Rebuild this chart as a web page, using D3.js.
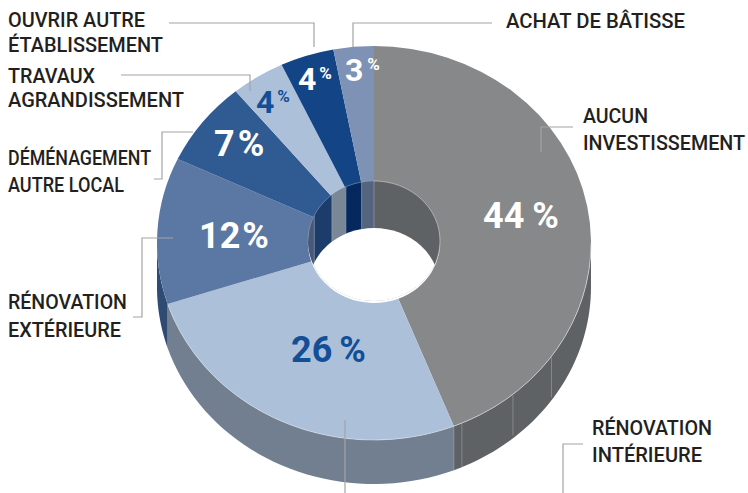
<!DOCTYPE html>
<html><head><meta charset="utf-8">
<script src="https://cdn.jsdelivr.net/npm/d3@7/dist/d3.min.js"></script>
<style>html,body{margin:0;padding:0;background:#fff}svg{display:block}</style>
</head><body><svg id="c" width="748" height="493"></svg>
<script>
const names = ["Aucun investissement","Rénovation intérieure","Rénovation extérieure","Déménagement autre local","Travaux agrandissement","Ouvrir autre établissement","Achat de bâtisse"];
const values = [44,26,12,7,4,4,3];
const topColors = ["#87888a","#adc0da","#5b77a3","#305a92","#adc0da","#134586","#7d92b5"];
const outerWallColors = ["#5f6265","#727f90","#2f4a73","#1f3f6e","#727f90","#05295f","#54647e"];
const innerWallColors = ["#5f6265","#727f90","#46597a","#1c3d6c","#7a8797","#05295f","#54647e"];
const labelColors = ["#fff","#134f96","#fff","#fff","#134f96","#fff","#fff"];

const svg = d3.select("#c");
const cx=374, cy=243, rx=217, ry=197, irx=66, iry=60, depth=44, idepth=47;
const ratio = ry/rx;
const arcs = d3.pie().sort(null).value(d=>d)(values);
const outerPt = (a,dy=0)=>[cx+rx*Math.sin(a), cy-ry*Math.cos(a)+dy];
const innerPt = (a,dy=0)=>[cx+irx*Math.sin(a), cy-2-iry*Math.cos(a)+dy];
const line = d3.line();
const PI=Math.PI;
const samples=(a0,a1)=>d3.range(0,41).map(i=>a0+(a1-a0)*i/40);
function wallPath(a0,a1,pt,d){
  const s = samples(a0,a1);
  return line(s.map(a=>pt(a)).concat(s.slice().reverse().map(a=>pt(a,d))))+"Z";
}
// outer wall
arcs.forEach((d,i)=>{
  const a0=Math.max(d.startAngle,PI/2), a1=Math.min(d.endAngle,3*PI/2);
  if(a1>a0) svg.append("path").attr("d",wallPath(a0,a1,outerPt,depth)).attr("fill",outerWallColors[i]);
});
// seams on the gray wall
const seam=(a,pt,d,c)=>svg.append("path").attr("d",line([pt(a,1),pt(a,d)])).attr("stroke",c).attr("stroke-width",.8).attr("fill","none");
[0.885,0.79].forEach(f=>seam(arcs[0].endAngle*f,outerPt,depth-3,"#8f9295"));
seam(arcs[0].endAngle,outerPt,depth,"#8d9095");
seam(arcs[0].endAngle-.04,outerPt,depth,"#8d9095");

// top slices
const arcGen=d3.arc().innerRadius(irx).outerRadius(rx);
const topG=svg.append("g").attr("transform",`translate(${cx},${cy}) scale(1,${ratio})`);
topG.selectAll("path").data(arcs).join("path").attr("d",arcGen).attr("fill",(d,i)=>topColors[i]);
// light rim between the top face and the wall
svg.append("path").attr("d",line(samples(PI/2,3*PI/2-.32).map(a=>outerPt(a)))).attr("fill","none").attr("stroke","#d4d8dd").attr("stroke-width",.7);

// hole
const defs=svg.append("defs");
defs.append("clipPath").attr("id","hole").append("ellipse").attr("cx",cx).attr("cy",cy-2).attr("rx",irx).attr("ry",iry);
const hole=svg.append("g").attr("clip-path","url(#hole)");
hole.append("ellipse").attr("cx",cx).attr("cy",cy-2).attr("rx",irx).attr("ry",iry).attr("fill","#5f6265");
arcs.forEach((d,i)=>{
  const draw=(s,e)=>{ if(e>s) hole.append("path").attr("d",wallPath(s,e,innerPt,idepth)).attr("fill",innerWallColors[i]); };
  draw(Math.max(d.startAngle,3*PI/2),Math.min(d.endAngle,2*PI));
  draw(d.startAngle,Math.min(d.endAngle,PI/2));
});
// seams on the inner wall
arcs.forEach(d=>{
  const a=d.endAngle;
  if(a>3*PI/2) hole.append("path").attr("d",line([innerPt(a),innerPt(a,idepth+30)])).attr("stroke","#9aa6b8").attr("stroke-width",.6);
});
hole.append("ellipse").attr("cx",cx).attr("cy",cy-2+idepth).attr("rx",irx).attr("ry",iry).attr("fill","#fff");
svg.append("path").attr("d",line(samples(0,PI/2+.35).map(a=>innerPt(a)))).attr("fill","none").attr("stroke","#c4c6c8").attr("stroke-width",.7);
svg.append("path").attr("d",line(samples(3*PI/2,2*PI).map(a=>innerPt(a)))).attr("fill","none").attr("stroke","#9aa6b8").attr("stroke-width",.5);

// leaders
const leaders=[
 [[353,47],[353,23],[492,23]],
 [[169,23],[314,23],[314,47]],
 [[121,75],[250,75],[250,91]],
 [[154,179],[162,179],[162,132],[193,132]],
 [[133,317],[142,317],[142,238],[173,238]],
 [[573,127],[541,127],[541,152]],
 [[345,420],[345,493]],
 [[583,444],[563,444],[563,493]]
];
svg.selectAll("path.l").data(leaders).join("path").attr("class","l").attr("d",d=>line(d)).attr("fill","none").attr("stroke","#a3a3a3").attr("stroke-width",1.2);

// category labels
const labelFont='"Roboto",sans-serif';
const cats=[
 ["ACHAT DE BÂTISSE",506,28,179],["OUVRIR AUTRE",8,27,137],["ÉTABLISSEMENT",8,52,155],["TRAVAUX",8,83,87],["AGRANDISSEMENT",8,107,176],
 ["DÉMÉNAGEMENT",8,165,143],["AUTRE LOCAL",8,192,116],["RÉNOVATION",8,309,119],["EXTÉRIEURE",8,337,113],
 ["AUCUN",583,123,65],["INVESTISSEMENT",583,150,162],["RÉNOVATION",592,435,120],["INTÉRIEURE",592,462,110]
];
svg.selectAll("text.c").data(cats).join("text").attr("class","c").attr("x",d=>d[1]).attr("y",d=>d[2]).text(d=>d[0])
 .attr("textLength",d=>d[3]).attr("lengthAdjust","spacingAndGlyphs")
 .attr("font-family",labelFont).attr("font-size",20).attr("font-weight",500).attr("fill","#231f20");

// value labels
const valueLabels=[
 [0,"44",483,228,8,"big"],[1,"26",291,362,7,"big"],[2,"12",199,248,2,"big"],[3,"7",214,156,3,"big"],
 [4,"4",256,113,3,"sup"],[5,"4",298,90,3,"sup"],[6,"3",345,81,4,"sup"]
];
valueLabels.forEach(([i,v,x,y,dx,kind])=>{
  const t=svg.append("text").attr("x",x).attr("y",y).attr("font-family",labelFont).attr("font-weight",700)
    .attr("font-size",kind==="big"?36:32).attr("fill",labelColors[i]);
  t.append("tspan").text(v);
  if(kind==="big") t.append("tspan").attr("dx",dx).text("%");
  else t.append("tspan").attr("dx",dx).attr("dy",-11).attr("font-size",17).text("%");
});
</script></body></html>
